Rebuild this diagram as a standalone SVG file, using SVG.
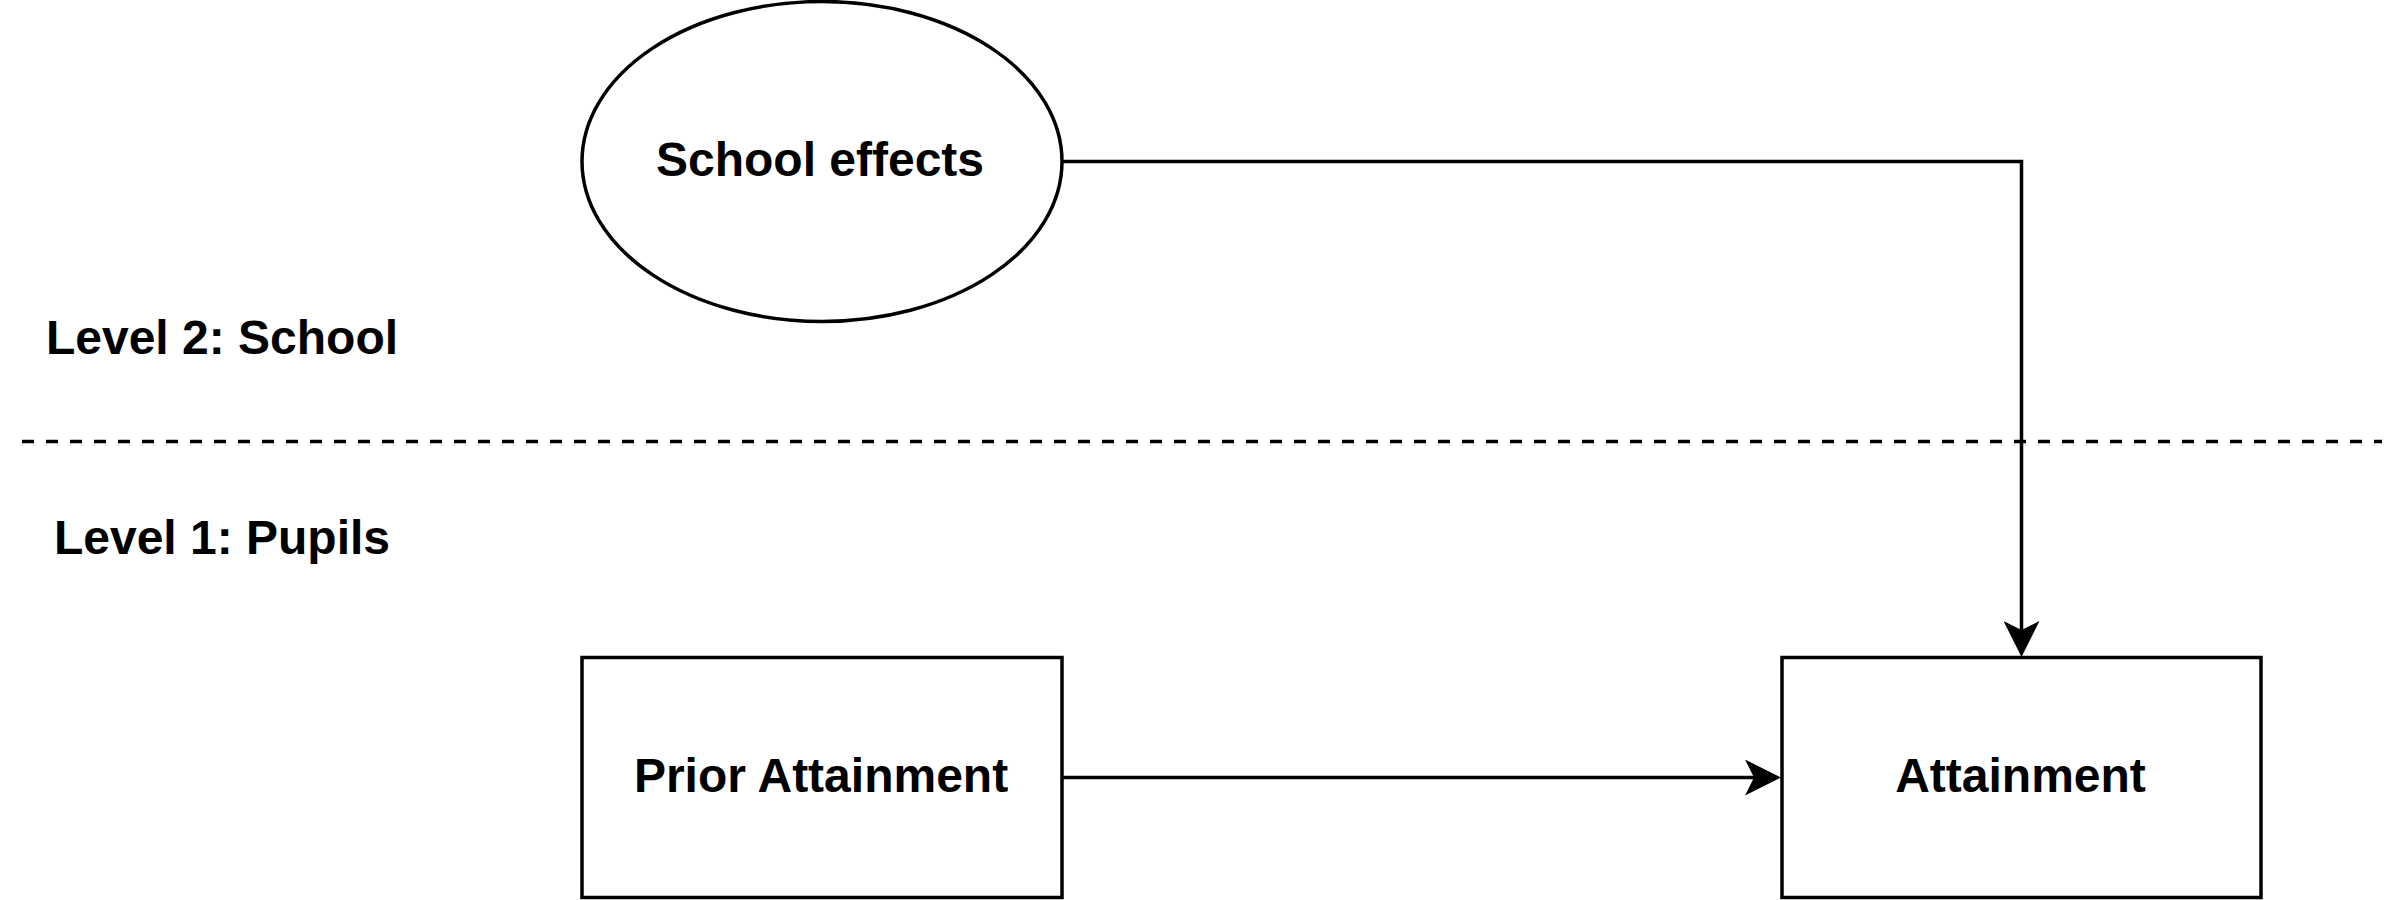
<svg xmlns="http://www.w3.org/2000/svg" width="2388" height="900" viewBox="0 0 2388 900">
  <style>
    .shape { fill: #ffffff; stroke: #000000; stroke-width: 3.5; }
    .edge { fill: none; stroke: #000000; stroke-width: 3.5; }
    .label { font-family: "Liberation Sans", Arial, sans-serif; font-weight: bold; font-size: 48px; fill: #000000; text-anchor: middle; }
    .divider { fill: none; stroke: #000000; stroke-width: 3.5; stroke-dasharray: 12 12; }
  </style>
  <defs>
    <marker id="arrow" viewBox="0 0 36 36" markerWidth="36" markerHeight="36" markerUnits="userSpaceOnUse" refX="9" refY="18" orient="auto">
      <path d="M0,0 L36,18 L0,36 L9,18 Z" fill="#000000"/>
    </marker>
  </defs>
  <rect width="2388" height="900" fill="#ffffff"/>

  <g id="divider">
    <line class="divider" x1="22" y1="441.5" x2="2382" y2="441.5"/>
  </g>

  <g id="level2-label">
    <text class="label" x="222" y="353.5">Level 2: School</text>
  </g>
  <g id="level1-label">
    <text class="label" x="222" y="553.5">Level 1: Pupils</text>
  </g>

  <g id="connectors">
    <path class="edge" d="M1062,161.5 H2021.5 V630" marker-end="url(#arrow)"/>
    <path class="edge" d="M1062,777.5 H1754" marker-end="url(#arrow)"/>
  </g>

  <g id="school-effects">
    <ellipse class="shape" cx="822" cy="161.5" rx="240" ry="160"/>
    <text class="label" x="820" y="175.5">School effects</text>
  </g>

  <g id="prior-attainment">
    <rect class="shape" x="582" y="657.5" width="480" height="240"/>
    <text class="label" x="821" y="792">Prior Attainment</text>
  </g>

  <g id="attainment">
    <rect class="shape" x="1782" y="657.5" width="479" height="240"/>
    <text class="label" x="2020.5" y="792">Attainment</text>
  </g>
</svg>
